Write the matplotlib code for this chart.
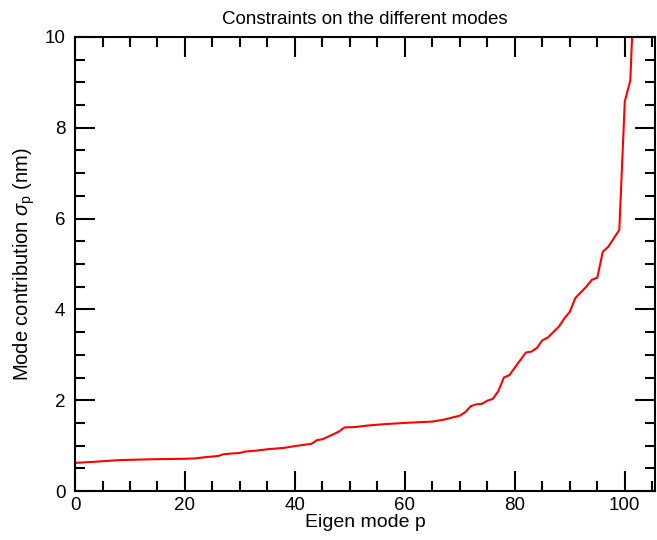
import matplotlib
matplotlib.use('Agg')
import matplotlib.pyplot as plt
from matplotlib.ticker import MultipleLocator

plt.rcParams['font.family'] = ['Liberation Sans', 'DejaVu Sans']
plt.rcParams['mathtext.fontset'] = 'custom'
plt.rcParams['mathtext.rm'] = 'Liberation Sans'
plt.rcParams['mathtext.it'] = 'Liberation Sans:italic'

# モード番号と寄与 (nm)
mode = [0, 3, 8, 14, 20, 22, 24, 26, 27, 30, 31, 33, 35, 38, 40, 43, 44, 45,
        47, 48, 49, 51, 53, 56, 60, 65, 67, 68, 70, 71, 72, 73, 74, 75, 76,
        77, 78, 79, 80, 82, 83, 84, 85, 86, 88, 89, 90, 91, 93, 94, 95, 96,
        97, 99, 100, 101, 101.5]
sigma = [0.62, 0.64, 0.68, 0.70, 0.71, 0.72, 0.75, 0.77, 0.81, 0.84, 0.87,
         0.89, 0.92, 0.95, 0.99, 1.04, 1.12, 1.14, 1.25, 1.31, 1.40, 1.41,
         1.44, 1.47, 1.50, 1.53, 1.57, 1.60, 1.66, 1.74, 1.87, 1.91, 1.92,
         1.99, 2.03, 2.20, 2.50, 2.55, 2.72, 3.05, 3.07, 3.15, 3.32, 3.38,
         3.62, 3.80, 3.95, 4.25, 4.50, 4.65, 4.70, 5.27, 5.38, 5.75, 8.58,
         9.04, 10.5]

fig = plt.figure(figsize=(6.57, 5.4), dpi=100)
ax = fig.add_axes([0.1142, 0.0907, 0.8828, 0.8408])

ax.plot(mode, sigma, color='red', linewidth=1.5)

ax.set_xlim(0, 105.5)
ax.set_ylim(0, 10)
ax.xaxis.set_major_locator(MultipleLocator(20))
ax.xaxis.set_minor_locator(MultipleLocator(5))
ax.yaxis.set_major_locator(MultipleLocator(2))
ax.yaxis.set_minor_locator(MultipleLocator(0.5))

for s in ax.spines.values():
    s.set_linewidth(1.5)
ax.tick_params(which='both', direction='in', top=True, right=True,
               width=1.5, labelsize=13.5)
ax.tick_params(which='major', length=14.4)
ax.tick_params(which='minor', length=7.2)
ax.tick_params(axis='y', pad=7)
ax.tick_params(axis='x', pad=4)

ax.set_title('Constraints on the different modes', fontsize=13.5, pad=9)
ax.set_xlabel('Eigen mode p', fontsize=14, labelpad=0)
ax.set_ylabel(r'Mode contribution $\sigma_\mathrm{p}$ (nm)', fontsize=14.5, labelpad=5)

fig.savefig('out.png', dpi=100)
